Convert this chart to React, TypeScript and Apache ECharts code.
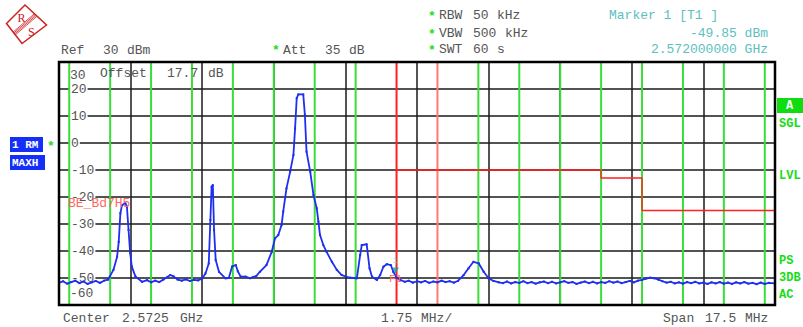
import React, { useEffect, useRef } from "react";
import * as echarts from "echarts";

// ---- axes ----
const FREQ_MIN = 2563.75; // MHz
const FREQ_MAX = 2581.25;
const FREQ_STEP = 1.75;
const LEVEL_MIN = -60; // dBm
const LEVEL_MAX = 30;
const LEVEL_STEP = 10;

// ---- trace 1 (MAXH), [MHz, dBm] ----
const traceLeft: number[][] = [
  [2563.75, -51.8], [2563.85, -51.2], [2563.95, -52.1], [2564.05, -51.5], [2564.15, -51.0],
  [2564.25, -51.9], [2564.35, -51.3], [2564.45, -52.2], [2564.55, -51.6], [2564.65, -51.1],
  [2564.75, -51.8], [2564.85, -51.0], [2564.95, -50.6],
  [2564.99, -49.5], [2565.08, -47.0], [2565.17, -42.1], [2565.21, -36.6], [2565.25, -26.0],
  [2565.29, -23.0], [2565.37, -22.3], [2565.41, -23.6], [2565.45, -32.2], [2565.49, -40.8],
  [2565.53, -45.8], [2565.62, -49.5], [2565.78, -51.4],
  [2565.9, -50.8], [2566.0, -51.6], [2566.1, -51.0], [2566.2, -51.5], [2566.3, -50.6],
  [2566.4, -49.6], [2566.47, -48.9], [2566.55, -49.4], [2566.65, -50.6], [2566.75, -51.0],
  [2566.85, -50.5], [2566.95, -51.1], [2567.05, -50.7], [2567.15, -50.9], [2567.25, -50.2],
  [2567.33, -48.3], [2567.41, -44.6], [2567.45, -28.5], [2567.48, -16.2], [2567.51, -15.6],
  [2567.54, -32.2], [2567.58, -43.3], [2567.66, -47.7], [2567.82, -50.1], [2567.9, -50.0],
  [2567.98, -45.8], [2568.07, -45.2], [2568.12, -47.5], [2568.19, -49.5], [2568.31, -49.5],
  [2568.42, -50.1], [2568.5, -49.6], [2568.57, -49.3],
];
const traceMain: number[][] = [
  [2568.66, -47.7], [2568.82, -45.2], [2568.95, -40.3], [2569.03, -35.3], [2569.11, -34.1],
  [2569.19, -30.4], [2569.23, -25.4], [2569.31, -16.8], [2569.4, -10.6], [2569.48, -4.4],
  [2569.52, 5.4], [2569.56, 16.6], [2569.6, 18.0], [2569.72, 18.0], [2569.76, 10.4],
  [2569.8, -3.2], [2569.89, -10.6], [2569.97, -19.3], [2570.05, -24.2], [2570.09, -29.1],
  [2570.13, -34.1], [2570.21, -37.8], [2570.29, -40.3], [2570.42, -44.0], [2570.54, -47.0],
  [2570.66, -48.9], [2570.86, -49.9], [2571.03, -50.1],
  [2571.11, -41.5], [2571.15, -37.8], [2571.27, -37.5], [2571.34, -46.4], [2571.4, -49.5],
  [2571.52, -50.7], [2571.6, -48.9], [2571.68, -45.8], [2571.76, -44.9], [2571.86, -45.2],
  [2571.92, -47.7], [2572.0, -49.85], [2572.09, -50.7],
];
const traceRight: number[][] = [
  [2572.2, -51.4], [2572.3, -51.0], [2572.4, -51.7], [2572.5, -51.2], [2572.6, -51.6],
  [2572.7, -51.1], [2572.8, -51.8], [2572.9, -51.3], [2573.0, -51.6], [2573.1, -51.0],
  [2573.2, -51.5], [2573.3, -51.2], [2573.4, -51.7], [2573.5, -51.1],
  [2573.64, -48.9], [2573.76, -46.4], [2573.88, -44.0], [2574.01, -44.6], [2574.13, -47.7],
  [2574.25, -50.1], [2574.37, -51.1],
  [2574.5, -51.6], [2574.6, -51.9], [2574.7, -51.3], [2574.8, -52.0], [2574.9, -51.5],
  [2575.0, -51.8], [2575.1, -51.2], [2575.2, -51.9], [2575.3, -51.5], [2575.4, -52.1],
  [2575.5, -51.6], [2575.6, -51.3], [2575.7, -51.9], [2575.8, -51.4], [2575.9, -52.0],
  [2576.0, -51.6], [2576.1, -51.2], [2576.2, -51.8], [2576.3, -51.5], [2576.4, -52.2],
  [2576.5, -51.7], [2576.6, -51.3], [2576.7, -51.9], [2576.8, -51.4], [2576.9, -52.0],
  [2577.0, -51.5], [2577.1, -51.8], [2577.2, -51.2], [2577.3, -51.7], [2577.4, -51.3],
  [2577.5, -51.9], [2577.6, -51.5], [2577.7, -51.1], [2577.8, -51.6], [2577.9, -51.0],
  [2578.0, -50.7], [2578.1, -50.2], [2578.2, -49.9], [2578.3, -50.1], [2578.4, -50.6],
  [2578.5, -51.2], [2578.6, -51.7], [2578.7, -51.4], [2578.8, -52.0], [2578.9, -51.6],
  [2579.0, -52.1], [2579.1, -51.5], [2579.2, -51.9], [2579.3, -51.4], [2579.4, -52.0],
  [2579.5, -51.7], [2579.6, -52.2], [2579.7, -51.6], [2579.8, -52.0], [2579.9, -51.5],
  [2580.0, -52.1], [2580.1, -51.7], [2580.2, -52.2], [2580.3, -51.6], [2580.4, -52.0],
  [2580.5, -51.5], [2580.6, -52.1], [2580.7, -51.8], [2580.8, -52.3], [2580.9, -51.7],
  [2581.0, -52.2], [2581.1, -51.8], [2581.25, -52.0],
];

// ---- channel / display frequency lines (MHz); kind 0 = green, 1 = F1 red, 2 = F2 salmon ----
const channelFreqs = [
  2564, 2565, 2566, 2567, 2568, 2569, 2570, 2571, 2572, 2573,
  2574, 2575, 2576, 2577, 2578, 2579, 2580, 2581,
];
const channelKinds = [0, 0, 0, 0, 0, 0, 0, 0, 1, 2, 0, 0, 0, 0, 0, 0, 0, 0];

// ---- limit line BE_Bd7H5 ----
const limitFreqs = [2572, 2577, 2578, 2581.25];
const limitLevels = [-10, -13, -25];

// ---- marker 1 ----
const markerFreq = 2572.0;
const markerLevel = -49.85;

const MONO = '"Liberation Mono", "DejaVu Sans Mono", monospace';
const GRAY = "#555555";
const TEAL = "#5cc0bd";
const GREEN_TXT = "#16dc16";

function txt(x: number, y: number, text: string, fill: string, extra: any = {}) {
  return {
    type: "text",
    x,
    y,
    z: 100,
    style: {
      text,
      fill,
      fontFamily: MONO,
      fontSize: 13,
      verticalAlign: "middle",
      align: "left",
      ...extra,
    },
  };
}

export default function App() {
  const ref = useRef<HTMLDivElement>(null);

  useEffect(() => {
    if (!ref.current) return;
    const chart = echarts.init(ref.current, undefined, { renderer: "svg" });

    const trace = [...traceLeft, ...traceMain, ...traceRight];
    const lineColors = ["#3ade3a", "#ff2020", "#ff7a70"];

    // step line: horizontal at each level, stepping at the next frequency
    const limitPoints: number[][] = limitLevels.map((lv, i) => [limitFreqs[i], lv]);
    limitPoints.push([limitFreqs[limitFreqs.length - 1], limitLevels[limitLevels.length - 1]]);
    const limitSteps = limitLevels.slice(1).map((lv, i) => ({
      type: "line",
      data: [
        [limitFreqs[i + 1], limitLevels[i]],
        [limitFreqs[i + 1], lv],
      ],
      showSymbol: false,
      lineStyle: { color: "#b8661e", width: 1.5 },
      z: 7,
      silent: true,
    }));

    // logo band lines
    const bandA = [35.7, 15];
    const bandB = [14.2, 33.5];
    const nrm = [0.65, 0.76];
    const band = [-1.8, -0.6, 0.6, 1.8].map((o) => ({
      type: "line",
      z: 101,
      shape: {
        x1: bandA[0] + nrm[0] * o,
        y1: bandA[1] + nrm[1] * o,
        x2: bandB[0] + nrm[0] * o,
        y2: bandB[1] + nrm[1] * o,
      },
      style: { stroke: "#cc2222", lineWidth: 0.8 },
    }));

    chart.setOption({
      animation: false,
      backgroundColor: "#ffffff",
      grid: { left: 59, top: 62, width: 716, height: 243, containLabel: false },
      xAxis: {
        type: "value",
        min: FREQ_MIN,
        max: FREQ_MAX,
        interval: FREQ_STEP,
        axisLine: { show: false },
        axisTick: { show: false },
        axisLabel: { show: false },
        splitLine: { show: true, lineStyle: { color: "#1a1a1a", width: 1.5 } },
      },
      yAxis: {
        type: "value",
        min: LEVEL_MIN,
        max: LEVEL_MAX,
        interval: LEVEL_STEP,
        axisLine: { show: false },
        axisTick: { show: false },
        splitLine: { show: true, lineStyle: { color: "#1a1a1a", width: 1.5 } },
        axisLabel: {
          inside: true,
          margin: 11,
          showMinLabel: true,
          showMaxLabel: true,
          color: GRAY,
          fontFamily: MONO,
          fontSize: 13,
          formatter: (v: number) =>
            v === LEVEL_MAX ? `{t|${v}}` : v === LEVEL_MIN ? `{b|${v}}` : `{n|${v}}`,
          rich: {
            n: { color: GRAY, fontFamily: MONO, fontSize: 13, backgroundColor: "#ffffff", padding: [0, 1, 0, 1] },
            t: { color: GRAY, fontFamily: MONO, fontSize: 13, padding: [26, 0, 0, 0] },
            b: { color: GRAY, fontFamily: MONO, fontSize: 13, padding: [0, 0, 24, 0] },
          },
        },
      },
      series: [
        {
          type: "custom",
          z: 3,
          silent: true,
          data: channelFreqs.map((f, i) => [f, channelKinds[i]]),
          renderItem: (_params: any, api: any) => {
            const top = api.coord([api.value(0), LEVEL_MAX]);
            const bot = api.coord([api.value(0), LEVEL_MIN]);
            return {
              type: "line",
              shape: { x1: top[0], y1: top[1], x2: bot[0], y2: bot[1] },
              style: { stroke: lineColors[api.value(1)], lineWidth: 2 },
            };
          },
        },
        {
          type: "line",
          data: trace,
          showSymbol: true,
          showAllSymbol: true,
          symbol: "rect",
          symbolSize: [2, 2],
          itemStyle: { color: "#1f2ff0" },
          lineStyle: { color: "#1f2ff0", width: 1.8 },
          z: 5,
          silent: true,
        },
        {
          type: "line",
          data: limitPoints,
          step: "end",
          showSymbol: false,
          lineStyle: { color: "#ff2020", width: 1.5 },
          z: 6,
          silent: true,
        },
        ...limitSteps,
        {
          type: "scatter",
          data: [[markerFreq, markerLevel]],
          symbol: "triangle",
          symbolRotate: 180,
          symbolSize: [7, 6],
          symbolOffset: [-1, -7],
          itemStyle: { color: "#1e9e9a" },
          label: {
            show: true,
            position: "top",
            distance: 2,
            formatter: "1",
            color: "#7fd0cc",
            fontFamily: MONO,
            fontSize: 9,
          },
          z: 8,
          silent: true,
        },
      ],
      graphic: [
        // frame
        {
          type: "rect",
          z: 50,
          shape: { x: 59, y: 62, width: 716, height: 243 },
          style: { fill: "none", stroke: "#000", lineWidth: 2.5 },
        },
        // logo
        {
          type: "polygon",
          z: 100,
          shape: { points: [[25, 5], [46.5, 25], [22, 43.5], [6.5, 23.5]] },
          style: { fill: "#fff", stroke: "#cc2222", lineWidth: 1.5 },
        },
        ...band,
        txt(17.5, 18, "R", "#cc2222", { fontFamily: '"Liberation Serif", serif', fontSize: 12 }),
        txt(28, 32, "S", "#cc2222", { fontFamily: '"Liberation Serif", serif', fontSize: 12 }),
        // header left
        txt(61, 50, "Ref", GRAY),
        txt(103, 50, "30", GRAY),
        txt(127, 50, "dBm", GRAY),
        txt(272, 50, "*", "#22dd22", { fontWeight: "bold" }),
        txt(283, 50, "Att", GRAY),
        txt(325, 50, "35", GRAY),
        txt(349, 50, "dB", GRAY),
        // header right
        txt(428, 16, "*", "#22dd22", { fontWeight: "bold" }),
        txt(439, 15, "RBW", GRAY),
        txt(473, 15, "50", GRAY),
        txt(497, 15, "kHz", GRAY),
        txt(428, 34, "*", "#22dd22", { fontWeight: "bold" }),
        txt(439, 33, "VBW", GRAY),
        txt(473, 33, "500", GRAY),
        txt(505, 33, "kHz", GRAY),
        txt(428, 50, "*", "#22dd22", { fontWeight: "bold" }),
        txt(439, 49, "SWT", GRAY),
        txt(473, 49, "60", GRAY),
        txt(497, 49, "s", GRAY),
        txt(609, 15, "Marker 1 [T1 ]", TEAL),
        txt(768, 33, "-49.85 dBm", TEAL, { align: "right" }),
        txt(768, 49, "2.572000000 GHz", TEAL, { align: "right" }),
        // inside plot
        txt(100, 73, "Offset", GRAY),
        txt(167, 73, "17.7", GRAY),
        txt(208, 73, "dB", GRAY),
        txt(68, 203, "BE_Bd7H5", "#ff6a5e"),
        txt(389, 279, "F1", "#ff6a5e", { fontSize: 11 }),
        // left trace info
        { type: "rect", z: 100, shape: { x: 10, y: 137, width: 33, height: 15 }, style: { fill: "#1430f8" } },
        txt(12, 145, "1 RM", "#ffffff", { fontSize: 11, fontWeight: "bold" }),
        txt(47, 146, "*", "#22dd22", { fontWeight: "bold" }),
        { type: "rect", z: 100, shape: { x: 10, y: 155, width: 35, height: 15 }, style: { fill: "#1430f8" } },
        txt(12, 163, "MAXH", "#ffffff", { fontSize: 11, fontWeight: "bold" }),
        // right status
        { type: "rect", z: 100, shape: { x: 777, y: 98, width: 26, height: 15 }, style: { fill: "#10dd10" } },
        txt(786, 106, "A", "#ffffff", { fontSize: 12, fontWeight: "bold" }),
        txt(779, 124, "SGL", GREEN_TXT, { fontSize: 12, fontWeight: "bold" }),
        txt(779, 176, "LVL", GREEN_TXT, { fontSize: 12, fontWeight: "bold" }),
        txt(779, 261, "PS", GREEN_TXT, { fontSize: 12, fontWeight: "bold" }),
        txt(779, 278, "3DB", GREEN_TXT, { fontSize: 12, fontWeight: "bold" }),
        txt(779, 295, "AC", GREEN_TXT, { fontSize: 12, fontWeight: "bold" }),
        // footer
        txt(63, 318, "Center", GRAY),
        txt(122, 318, "2.5725", GRAY),
        txt(180, 318, "GHz", GRAY),
        txt(381, 318, "1.75", GRAY),
        txt(421, 318, "MHz/", GRAY),
        txt(663, 318, "Span", GRAY),
        txt(705, 318, "17.5", GRAY),
        txt(745, 318, "MHz", GRAY),
      ],
    });

    return () => chart.dispose();
  }, []);

  return (
    <div
      ref={ref}
      style={{ position: "fixed", left: 0, top: 0, width: 803, height: 327, background: "#fff" }}
    />
  );
}
